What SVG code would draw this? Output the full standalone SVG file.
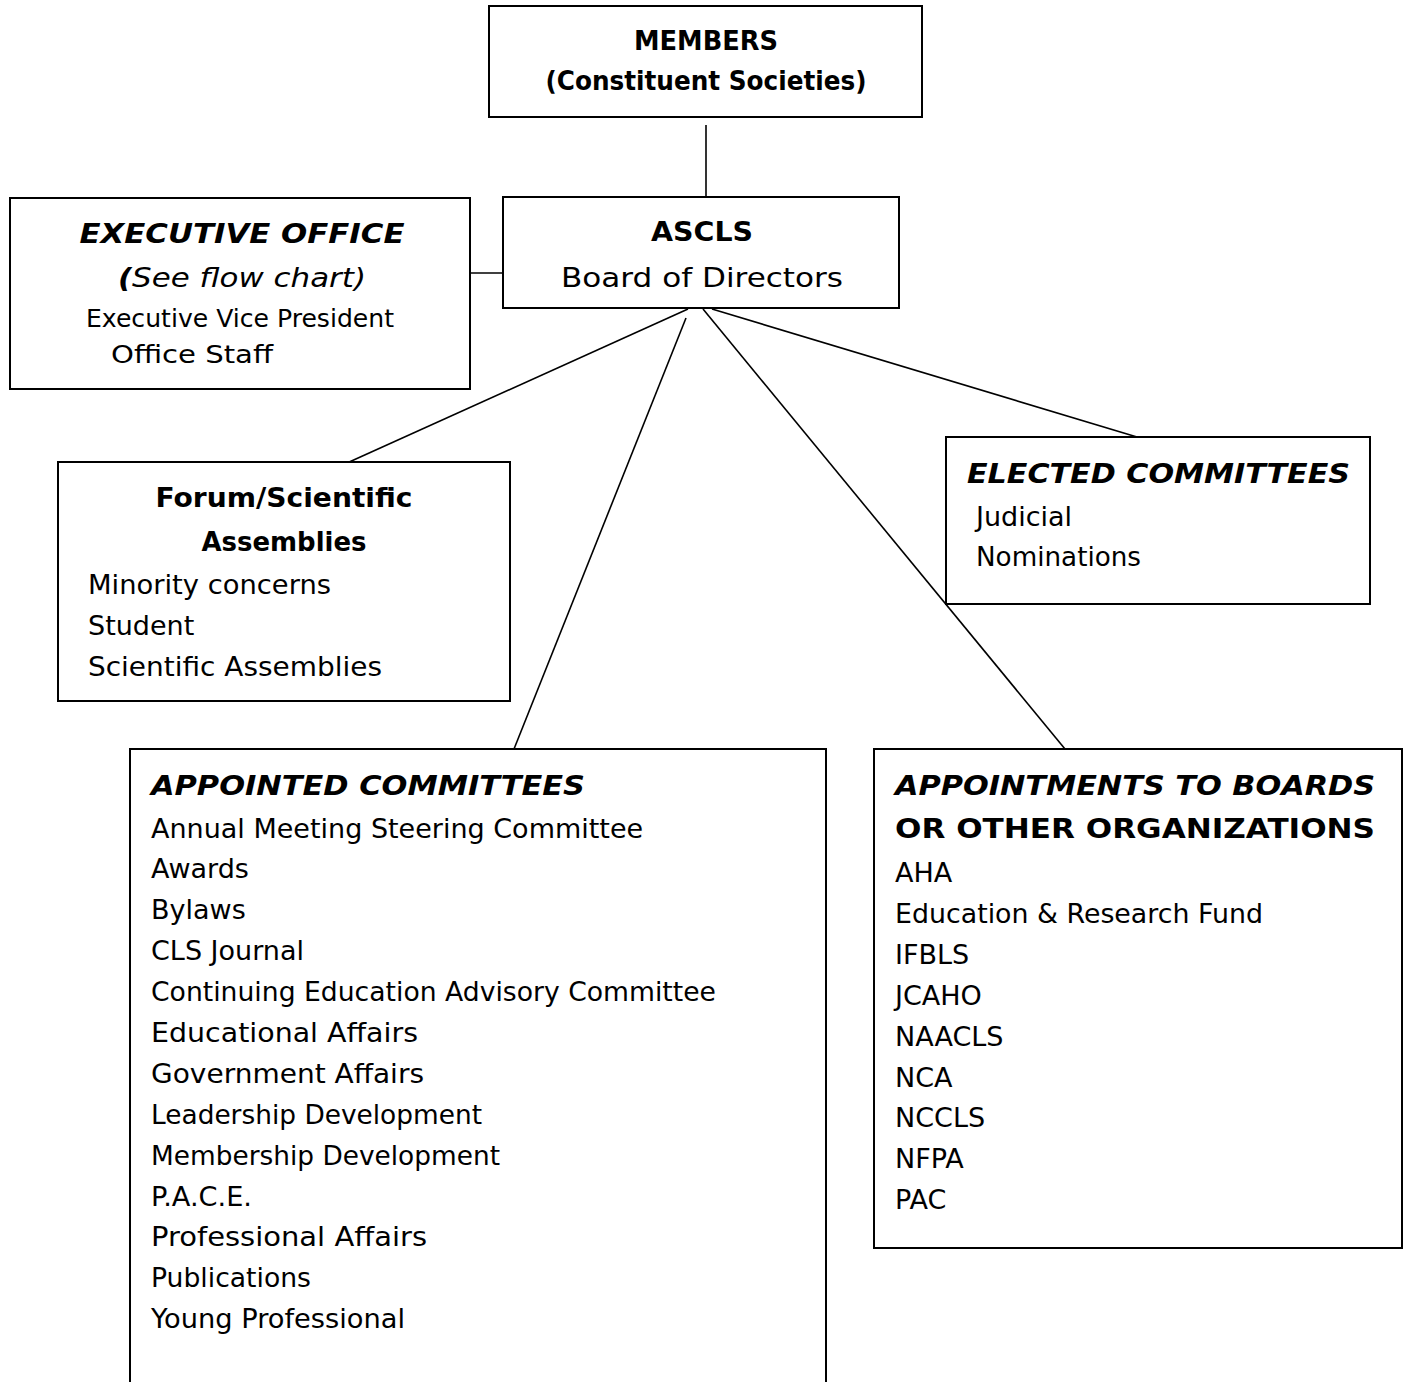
<svg xmlns="http://www.w3.org/2000/svg" width="1408" height="1382" viewBox="0 0 1408 1382">
<style>
.box{fill:#fff;stroke:#000;stroke-width:2}
.ln{stroke:#000;stroke-width:1.6;fill:none}
text{font-family:"DejaVu Sans","Liberation Sans",sans-serif;font-size:27px;fill:#000}
.b{font-weight:bold}
.bi{font-weight:bold;font-style:italic}
.i{font-style:italic}
.c{text-anchor:middle}
.s{font-size:25px}
</style>
<rect width="1408" height="1382" fill="#fff"/>
<g id="connectors">
<line class="ln" x1="706" y1="125" x2="706" y2="197"/>
<line class="ln" x1="470" y1="273" x2="503" y2="273"/>
<line class="ln" x1="688" y1="309" x2="347" y2="463"/>
<line class="ln" x1="686" y1="318" x2="514" y2="749"/>
<line class="ln" x1="703" y1="309" x2="1065" y2="749"/>
<line class="ln" x1="712" y1="309" x2="1137" y2="437"/>
</g>
<g id="members">
<rect class="box" x="489" y="6" width="433" height="111"/>
<text class="b c" x="706" y="50" textLength="144" lengthAdjust="spacingAndGlyphs">MEMBERS</text>
<text class="b c" x="706" y="90" textLength="321" lengthAdjust="spacingAndGlyphs">(Constituent Societies)</text>
</g>
<g id="ascls">
<rect class="box" x="503" y="197" width="396" height="111"/>
<text class="b c" x="702" y="241" textLength="102" lengthAdjust="spacingAndGlyphs">ASCLS</text>
<text class="c" x="702" y="287" textLength="282" lengthAdjust="spacingAndGlyphs">Board of Directors</text>
</g>
<g id="executive-office">
<rect class="box" x="10" y="198" width="460" height="191"/>
<text class="bi c" x="242" y="243" textLength="325" lengthAdjust="spacingAndGlyphs">EXECUTIVE OFFICE</text>
<text x="118" y="287" textLength="248" lengthAdjust="spacingAndGlyphs"><tspan class="bi">(</tspan><tspan class="i">See flow chart)</tspan></text>
<text class="s" x="86" y="327" textLength="308" lengthAdjust="spacingAndGlyphs">Executive Vice President</text>
<text class="s" x="111" y="363" textLength="162" lengthAdjust="spacingAndGlyphs">Office Staff</text>
</g>
<g id="forum">
<rect class="box" x="58" y="462" width="452" height="239"/>
<text class="b c" x="284" y="507" textLength="257" lengthAdjust="spacingAndGlyphs">Forum/Scientific</text>
<text class="b c" x="284" y="551" textLength="165" lengthAdjust="spacingAndGlyphs">Assemblies</text>
<text x="88" y="594" textLength="243" lengthAdjust="spacingAndGlyphs">Minority concerns</text>
<text x="88" y="635">Student</text>
<text x="88" y="676" textLength="294" lengthAdjust="spacingAndGlyphs">Scientific Assemblies</text>
</g>
<g id="elected">
<rect class="box" x="946" y="437" width="424" height="167"/>
<text class="bi" x="967" y="483" textLength="383" lengthAdjust="spacingAndGlyphs">ELECTED COMMITTEES</text>
<text x="976" y="526">Judicial</text>
<text x="976" y="566" textLength="165" lengthAdjust="spacingAndGlyphs">Nominations</text>
</g>
<g id="appointed">
<rect class="box" x="130" y="749" width="696" height="645"/>
<text class="bi" x="151" y="795" textLength="434" lengthAdjust="spacingAndGlyphs">APPOINTED COMMITTEES</text>
<text x="151" y="838">Annual Meeting Steering Committee</text>
<text x="151" y="878">Awards</text>
<text x="151" y="919">Bylaws</text>
<text x="151" y="960">CLS Journal</text>
<text x="151" y="1001" textLength="565" lengthAdjust="spacingAndGlyphs">Continuing Education Advisory Committee</text>
<text x="151" y="1042" textLength="267" lengthAdjust="spacingAndGlyphs">Educational Affairs</text>
<text x="151" y="1083" textLength="273" lengthAdjust="spacingAndGlyphs">Government Affairs</text>
<text x="151" y="1124" textLength="331" lengthAdjust="spacingAndGlyphs">Leadership Development</text>
<text x="151" y="1165" textLength="349" lengthAdjust="spacingAndGlyphs">Membership Development</text>
<text x="151" y="1206" textLength="101" lengthAdjust="spacingAndGlyphs">P.A.C.E.</text>
<text x="151" y="1246" textLength="276" lengthAdjust="spacingAndGlyphs">Professional Affairs</text>
<text x="151" y="1287" textLength="160" lengthAdjust="spacingAndGlyphs">Publications</text>
<text x="151" y="1328" textLength="254" lengthAdjust="spacingAndGlyphs">Young Professional</text>
</g>
<g id="appointments">
<rect class="box" x="874" y="749" width="528" height="499"/>
<text class="bi" x="895" y="795" textLength="480" lengthAdjust="spacingAndGlyphs">APPOINTMENTS TO BOARDS</text>
<text class="b" x="895" y="838" textLength="480" lengthAdjust="spacingAndGlyphs">OR OTHER ORGANIZATIONS</text>
<text x="895" y="882">AHA</text>
<text x="895" y="923" textLength="368" lengthAdjust="spacingAndGlyphs">Education &amp; Research Fund</text>
<text x="895" y="964">IFBLS</text>
<text x="895" y="1005">JCAHO</text>
<text x="895" y="1046">NAACLS</text>
<text x="895" y="1087">NCA</text>
<text x="895" y="1127">NCCLS</text>
<text x="895" y="1168">NFPA</text>
<text x="895" y="1209">PAC</text>
</g>
</svg>
